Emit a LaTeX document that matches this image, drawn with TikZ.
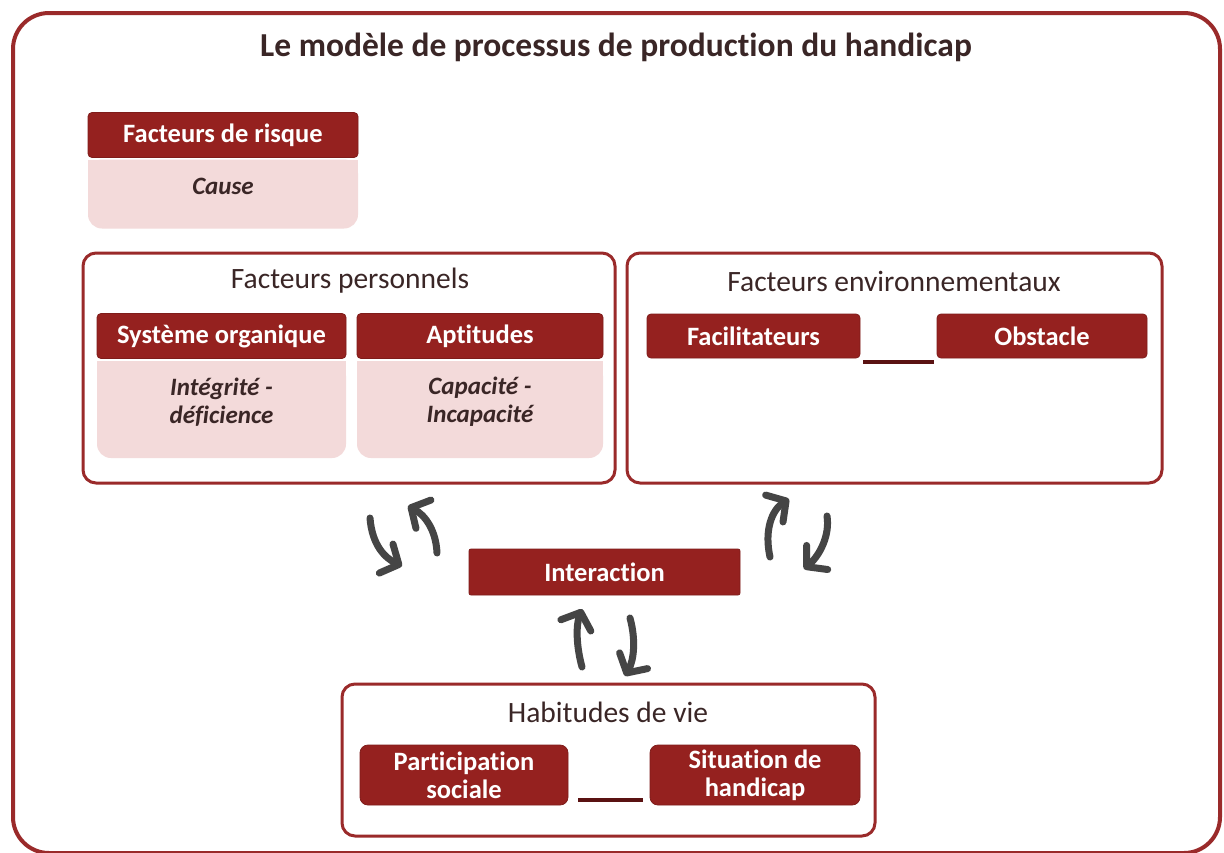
\documentclass[tikz,border=0pt]{standalone}
\usepackage{fontspec}
\setmainfont{Carlito}[Ligatures=NoCommon]
\usetikzlibrary{arrows.meta}
\definecolor{hdr}{HTML}{95211F}
\definecolor{pinkbody}{HTML}{F3DADA}
\definecolor{framecol}{HTML}{9A2A2A}
\definecolor{ink}{HTML}{3A2626}
\definecolor{arr}{HTML}{454545}
\definecolor{linkcol}{HTML}{5A1212}
\begin{document}
\begin{tikzpicture}[x=1pt,y=-1pt,
  hdrbox/.style={fill=hdr, draw=hdr!85!black, line width=0.8pt, rounded corners=4pt, text=white,
    font=\fontsize{26.5}{28}\selectfont\bfseries, align=center, inner sep=0pt},
  bodybox/.style={fill=pinkbody, draw=none, rounded corners=14pt, inner sep=0pt},
  bodytext/.style={text=ink, font=\fontsize{25}{28}\selectfont\bfseries\itshape, align=center, inner sep=0pt},
  groupbox/.style={draw=framecol, line width=3pt, rounded corners=13pt, fill=white, inner sep=0pt},
  grouptitle/.style={text=ink, font=\fontsize{29.5}{32}\selectfont, inner sep=0pt},
  linkline/.style={draw=linkcol, line width=4pt},
  handarrow/.style={draw=arr, line width=7pt, line cap=round,
    -{Straight Barb[length=14pt,width=32pt,round]}}
]
\useasboundingbox (0,0) rectangle (1224,852);
\fill[white] (0,0) rectangle (1224,852);

% outer frame
\draw[framecol, line width=4pt, rounded corners=36pt] (13,13) rectangle (1220,853);
\node[text=ink, font=\fontsize{33.5}{36}\selectfont\bfseries, inner sep=0pt] (title) at (616,47) {Le modèle de processus de production du handicap};

% Facteurs de risque
\node[bodybox, minimum width=270pt, minimum height=69pt] (riskbody) at (223,194) {};
\fill[pinkbody] (88,160) rectangle (358,180);
\node[hdrbox, minimum width=270pt, minimum height=45pt] (risk) at (223,135) {Facteurs de risque};
\node[bodytext] (cause) at (223,186) {Cause};

% Facteurs personnels
\node[groupbox, minimum width=532pt, minimum height=230pt] (perso) at (349,368) {};
\node[grouptitle] (persotitle) at (350,281) {Facteurs personnels};
\node[bodybox, minimum width=249pt, minimum height=96pt] (sysbody) at (221.5,410) {};
\fill[pinkbody] (97,361) rectangle (346,380);
\node[hdrbox, minimum width=249pt, minimum height=45pt] (sys) at (221.5,336) {Système organique};
\node[bodytext] (systext) at (221.5,402) {Intégrité -\\déficience};
\node[bodybox, minimum width=246pt, minimum height=96pt] (aptbody) at (480,410) {};
\fill[pinkbody] (357,361) rectangle (603,380);
\node[hdrbox, minimum width=246pt, minimum height=45pt] (apt) at (480,336) {Aptitudes};
\node[bodytext] (apttext) at (480,402) {Capacité -\\Incapacité};

% Facteurs environnementaux
\node[groupbox, minimum width=535pt, minimum height=230pt] (env) at (894.5,368) {};
\node[grouptitle] (envtitle) at (894,281) {Facteurs environnementaux};
\node[hdrbox, minimum width=213pt, minimum height=44pt] (facil) at (753.5,336) {Facilitateurs};
\node[hdrbox, minimum width=210pt, minimum height=44pt] (obst) at (1042,336) {Obstacle};
\coordinate (fl1) at (863,362);
\coordinate (fl2) at (934,362);
\draw[linkline] (fl1) -- (fl2);

% Interaction
\node[hdrbox, rounded corners=2pt, minimum width=271pt, minimum height=46pt] (inter) at (604.5,572) {Interaction};

% Habitudes de vie
\node[groupbox, minimum width=533pt, minimum height=152pt] (habit) at (608.5,760) {};
\node[grouptitle] (habittitle) at (608,712) {Habitudes de vie};
\node[hdrbox, rounded corners=8pt, minimum width=208pt, minimum height=60pt] (partic) at (464,775) {Participation\\sociale};
\node[hdrbox, rounded corners=8pt, minimum width=210pt, minimum height=60pt] (situ) at (755,775) {Situation de\\handicap};
\coordinate (hl1) at (578,800);
\coordinate (hl2) at (643,800);
\draw[linkline] (hl1) -- (hl2);

% hand-drawn arrows
\coordinate (a1s) at (370,518); \coordinate (a1e) at (402,566);
\draw[handarrow] (a1s) .. controls (372,545) and (385,558) .. (a1e);
\coordinate (a2s) at (437,553); \coordinate (a2e) at (408,506);
\draw[handarrow] (a2s) .. controls (436,530) and (425,515) .. (a2e);
\coordinate (a3s) at (770,557); \coordinate (a3e) at (789,499);
\draw[handarrow] (a3s) .. controls (764,530) and (772,510) .. (a3e);
\coordinate (a4s) at (827,516); \coordinate (a4e) at (804,569);
\draw[handarrow] (a4s) .. controls (830,535) and (820,555) .. (a4e);
\coordinate (a5s) at (582,667); \coordinate (a5e) at (582,609);
\draw[handarrow] (a5s) .. controls (576,645) and (576,625) .. (a5e);
\coordinate (a6s) at (630,618); \coordinate (a6e) at (625,676);
\draw[handarrow] (a6s) .. controls (636,640) and (634,660) .. (a6e);
\end{tikzpicture}
\end{document}
